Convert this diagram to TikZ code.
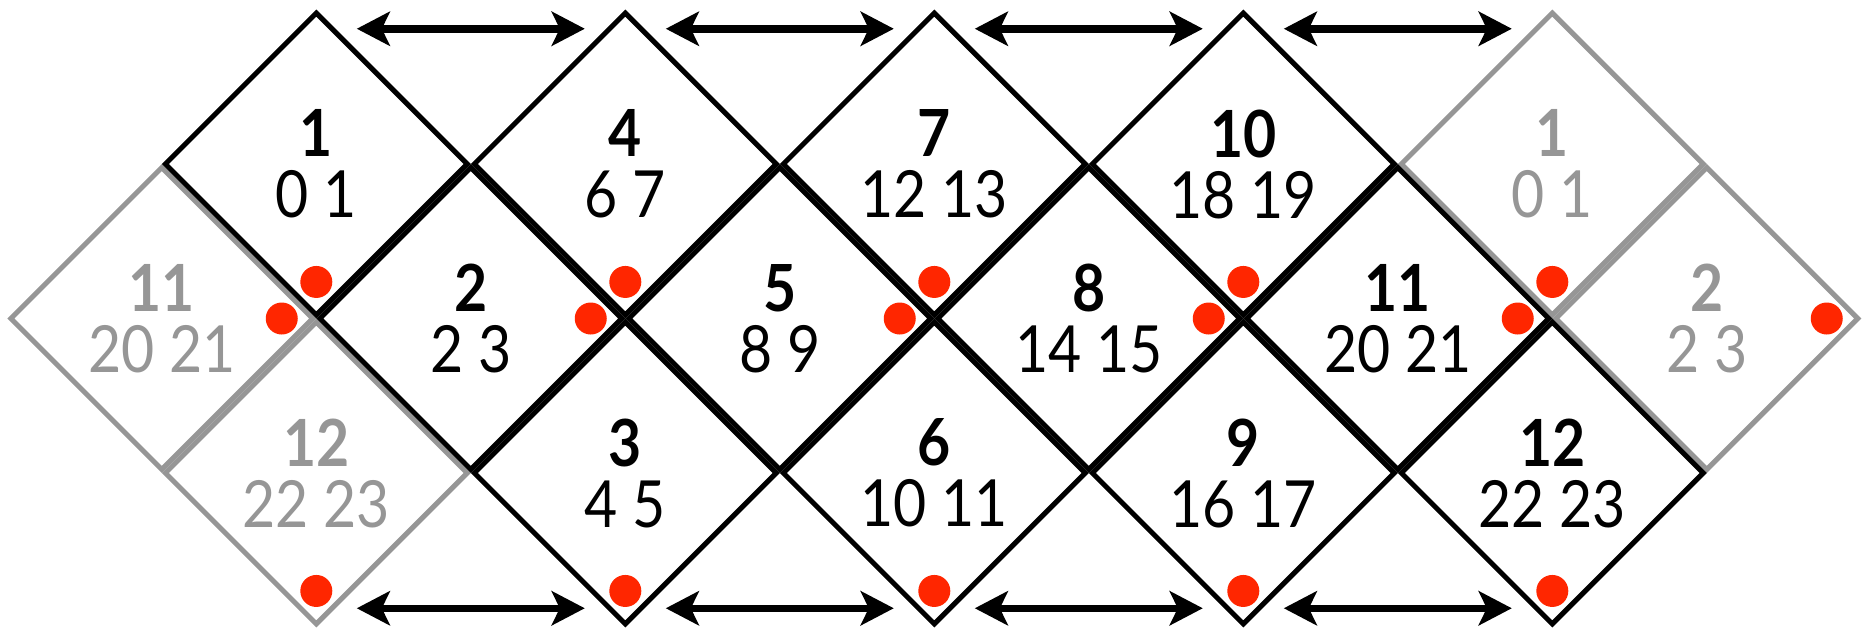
\documentclass[tikz,border=0pt]{standalone}
\usepackage{fontspec}
\setmainfont{Lato}[FakeStretch=0.88]
\usetikzlibrary{shapes.geometric,arrows.meta}
\definecolor{gr}{RGB}{150,150,150}
\definecolor{dotred}{RGB}{255,38,0}
\tikzset{
  cell/.style={diamond, aspect=1, minimum width=301.9pt, minimum height=301.9pt,
    inner sep=0pt, outer sep=0pt, draw=black, line width=5pt, align=center,
    font=\fontsize{65}{61}\selectfont, text=black},
  ghost/.style={cell, draw=gr, text=gr},
  reddot/.style={circle, fill=dotred, minimum size=32pt, inner sep=0pt, draw=none},
  twoway/.style={{Stealth[length=33pt,width=34pt,inset=8pt]}-{Stealth[length=33pt,width=34pt,inset=8pt]},
    line width=7.5pt, shorten <=40.5pt, shorten >=40.5pt}
}
\begin{document}
\begin{tikzpicture}[x=1pt,y=-1pt]
\useasboundingbox (0,0) rectangle (1871,627);
% ghost cells
\node[ghost] (mg11) at (161.8,318.5) {\textbf{11}\\20 21};
\node[ghost] (bg12) at (316.3,473) {\textbf{12}\\22 23};
\node[ghost] (tg1) at (1552.3,164) {\textbf{1}\\0 1};
\node[ghost] (mg2) at (1706.8,318.5) {\textbf{2}\\2 3};
% top row
\node[cell] (t1) at (316.3,164) {\textbf{1}\\0 1};
\node[cell] (t4) at (625.3,164) {\textbf{4}\\6 7};
\node[cell] (t7) at (934.3,164) {\textbf{7}\\12 13};
\node[cell] (t10) at (1243.3,164) {\textbf{10}\\18 19};
% middle row
\node[cell] (m2) at (470.8,318.5) {\textbf{2}\\2 3};
\node[cell] (m5) at (779.8,318.5) {\textbf{5}\\8 9};
\node[cell] (m8) at (1088.8,318.5) {\textbf{8}\\14 15};
\node[cell] (m11) at (1397.8,318.5) {\textbf{11}\\20 21};
% bottom row
\node[cell] (b3) at (625.3,473) {\textbf{3}\\4 5};
\node[cell] (b6) at (934.3,473) {\textbf{6}\\10 11};
\node[cell] (b9) at (1243.3,473) {\textbf{9}\\16 17};
\node[cell] (b12) at (1552.3,473) {\textbf{12}\\22 23};
% red dots
\foreach \n in {t1,t4,t7,t10,tg1,bg12,b3,b6,b9,b12}
  \node[reddot] (dot-\n) at ([yshift=33pt]\n.south) {};
\foreach \n in {mg11,m2,m5,m8,m11,mg2}
  \node[reddot] (dot-\n) at ([xshift=-31pt]\n.east) {};
% arrows
\foreach \a/\b in {t1/t4,t4/t7,t7/t10,t10/tg1}
  \draw[twoway] ([yshift=-15.7pt]\a.north) -- ([yshift=-15.7pt]\b.north);
\foreach \a/\b in {bg12/b3,b3/b6,b6/b9,b9/b12}
  \draw[twoway] ([yshift=15.7pt]\a.south) -- ([yshift=15.7pt]\b.south);
\end{tikzpicture}
\end{document}
